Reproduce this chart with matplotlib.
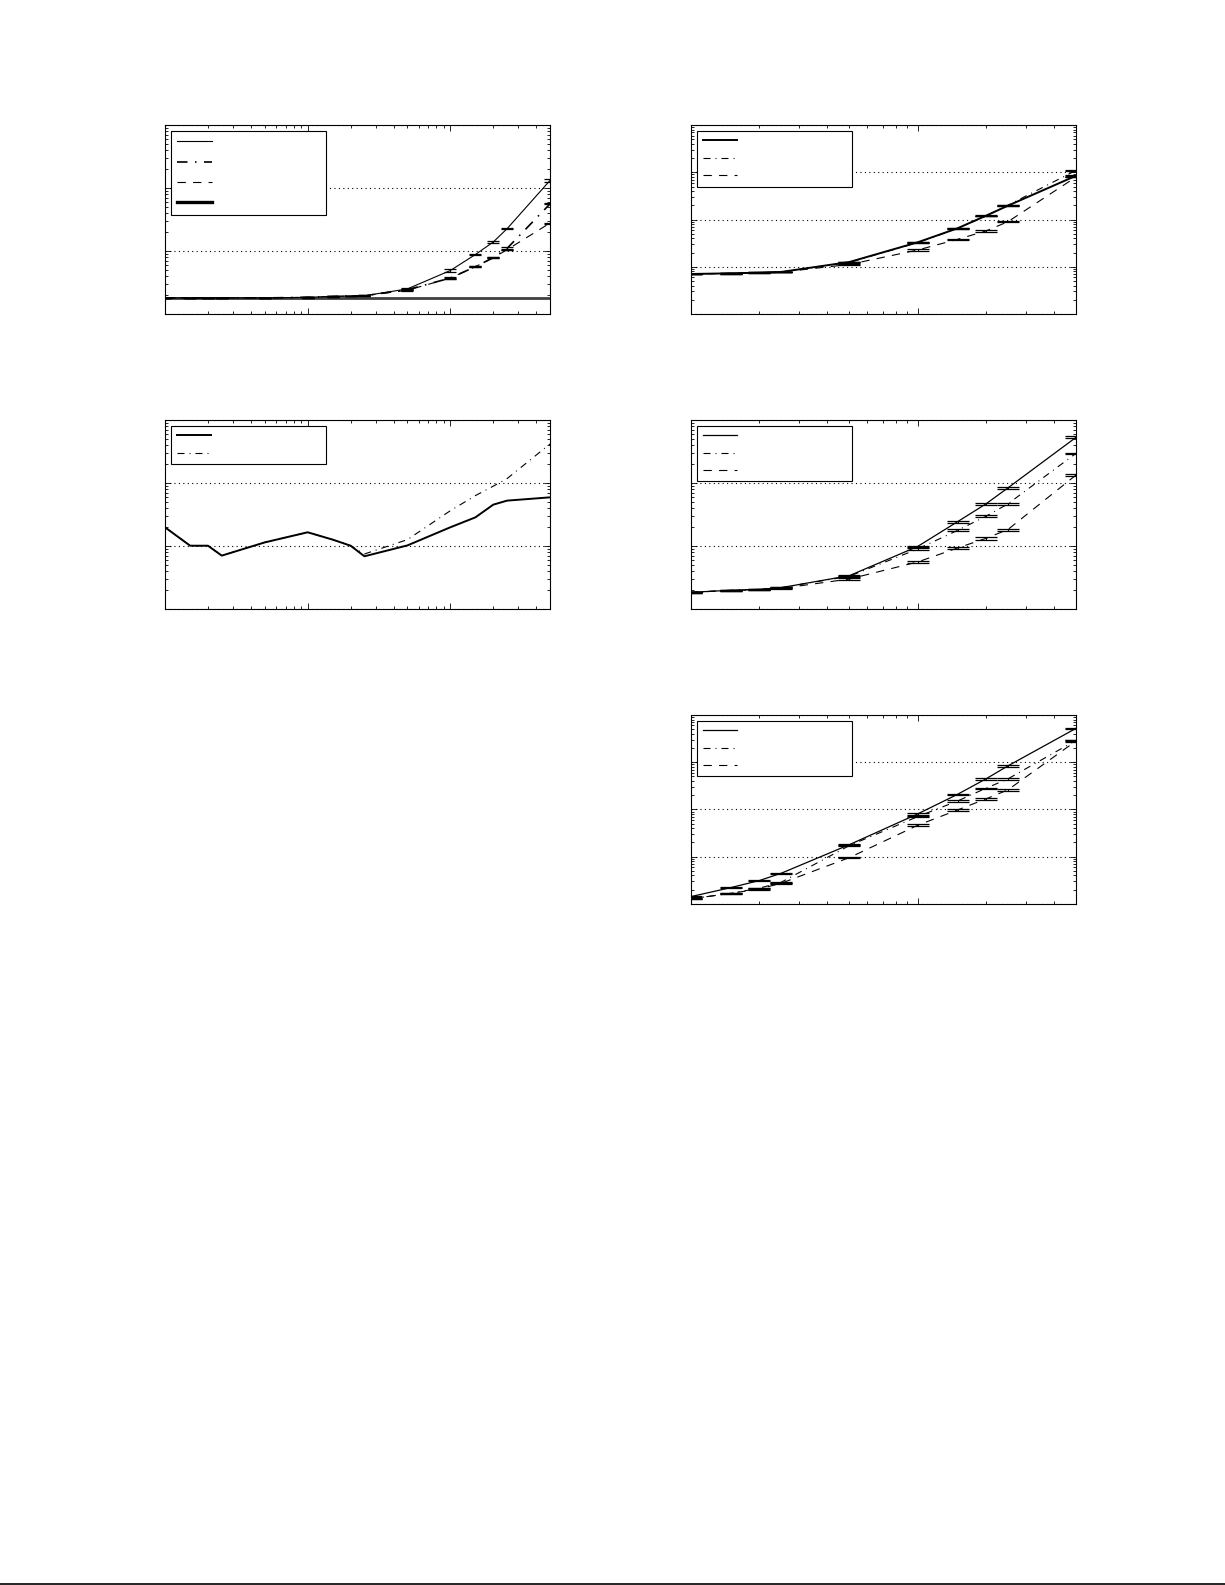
import matplotlib
matplotlib.use("Agg")
import matplotlib.pyplot as plt
from matplotlib.lines import Line2D

# x values (two groups of runs)
x_long = [1, 1.5, 2, 2.5, 5, 10, 15, 20, 25, 50, 100, 150, 200, 250, 500]
x_short = [1, 1.5, 2, 2.5, 5, 10, 15, 20, 25, 50]

# panel 1 (top left)
p1_a = [0.018, 0.018, 0.018, 0.018, 0.018, 0.0184, 0.019, 0.0193, 0.0195, 0.025, 0.049, 0.088, 0.139, 0.226, 1.32]
p1_b = [0.018, 0.018, 0.018, 0.018, 0.018, 0.0184, 0.019, 0.0193, 0.0195, 0.0243, 0.0372, 0.0564, 0.0783, 0.110, 0.56]
p1_c = [0.018, 0.018, 0.018, 0.018, 0.018, 0.0184, 0.019, 0.0193, 0.0195, 0.0238, 0.0372, 0.0564, 0.0783, 0.105, 0.278]
p1_d = [0.018, 0.018, 0.018, 0.018, 0.018, 0.018, 0.018, 0.018, 0.018, 0.018, 0.018, 0.018, 0.018, 0.018, 0.018]
p1_ea = [0.015, 0.015, 0.015, 0.015, 0.015, 0.015, 0.015, 0.015, 0.015, 0.02, 0.045, 0.02, 0.02, 0.02, 0.04]
p1_eb = [0.015, 0.015, 0.015, 0.015, 0.015, 0.015, 0.015, 0.015, 0.015, 0.015, 0.045, 0.02, 0.02, 0.045, 0.02]
p1_ec = [0.015, 0.015, 0.015, 0.015, 0.015, 0.015, 0.015, 0.015, 0.015, 0.015, 0.02, 0.02, 0.02, 0.02, 0.02]

# panel 2 (top right)
p2_a = [0.0703, 0.0726, 0.075, 0.0776, 0.126, 0.329, 0.652, 1.20, 1.96, 8.45]
p2_b = [0.0703, 0.0726, 0.075, 0.0776, 0.124, 0.325, 0.645, 1.19, 2.0, 11.0]
p2_c = [0.0703, 0.0726, 0.075, 0.0770, 0.112, 0.226, 0.381, 0.571, 0.897, 7.94]
p2_ea = [0.01, 0.01, 0.01, 0.01, 0.015, 0.015, 0.015, 0.015, 0.015, 0.015]
p2_eb = [0.01, 0.01, 0.01, 0.01, 0.015, 0.015, 0.015, 0.015, 0.015, 0.03]
p2_ec = [0.01, 0.01, 0.01, 0.01, 0.015, 0.04, 0.02, 0.035, 0.035, 0.02]

# panel 3 (middle left)
p3_a = [0.198, 0.101, 0.101, 0.0703, 0.114, 0.165, 0.126, 0.101, 0.0686, 0.102, 0.198, 0.285, 0.453, 0.525, 0.592]
p3_b = [0.198, 0.101, 0.101, 0.0703, 0.114, 0.165, 0.126, 0.101, 0.0746, 0.126, 0.363, 0.631, 0.891, 1.175, 4.17]

# panel 4 (middle right)
p4_a = [0.184, 0.198, 0.205, 0.218, 0.338, 0.982, 2.43, 4.65, 8.34, 53.1]
p4_b = [0.184, 0.198, 0.205, 0.218, 0.331, 0.895, 1.77, 2.96, 4.65, 29.6]
p4_c = [0.184, 0.196, 0.202, 0.212, 0.299, 0.557, 0.929, 1.32, 1.82, 13.4]
p4_ea = [0.01, 0.02, 0.02, 0.02, 0.02, 0.02, 0.04, 0.04, 0.02, 0.04]
p4_eb = [0.01, 0.02, 0.02, 0.02, 0.02, 0.02, 0.04, 0.04, 0.04, 0.03]
p4_ec = [0.01, 0.02, 0.02, 0.02, 0.02, 0.04, 0.04, 0.04, 0.04, 0.04]

# panel 5 (bottom right)
p5_a = [0.143, 0.222, 0.312, 0.446, 1.80, 8.04, 20.9, 44.3, 83.4, 522]
p5_b = [0.128, 0.168, 0.215, 0.288, 1.72, 7.05, 15.1, 28.1, 44.3, 291]
p5_c = [0.128, 0.168, 0.207, 0.274, 0.957, 4.62, 9.75, 16.7, 25.9, 282]
p5_ea = [0.02, 0.03, 0.03, 0.03, 0.03, 0.04, 0.04, 0.03, 0.04, 0.04]
p5_eb = [0.03, 0.03, 0.03, 0.03, 0.03, 0.04, 0.04, 0.02, 0.04, 0.03]
p5_ec = [0.03, 0.03, 0.03, 0.03, 0.03, 0.04, 0.04, 0.04, 0.04, 0.04]

DASH = (0, (7.5, 6.5))
DASHDOT = (0, (6.3, 4.5, 0.9, 4.5))


def setup_axes(fig, rect, xlim, ylim):
    ax = fig.add_axes(rect)
    ax.set_xscale('log')
    ax.set_yscale('log')
    ax.set_xlim(xlim)
    ax.set_ylim(ylim)
    ax.tick_params(which='both', direction='in', top=True, right=True,
                   labelbottom=False, labelleft=False, width=0.6)
    ax.tick_params(which='major', length=4)
    ax.tick_params(which='minor', length=2.2)
    for s in ax.spines.values():
        s.set_linewidth(0.8)
    ax.yaxis.grid(True, which='major', linestyle=(0, (1, 3)), linewidth=0.8, color='k')
    ax.xaxis.grid(False)
    ax.set_axisbelow(True)
    return ax


def err_plot(ax, x, y, rel, ls, lw, cap):
    e = [v * r for v, r in zip(y, rel)]
    c = ax.errorbar(x, y, yerr=e, color='k', linestyle=ls, linewidth=lw,
                    elinewidth=0.8, capsize=cap, capthick=0.9)
    return c.lines[0]


def add_legend(ax, handles, spacing, pad=0.5):
    leg = ax.legend(handles, [''] * len(handles), loc='upper left',
                    bbox_to_anchor=(0.0156, 0.0, 0.4026, 0.97), mode='expand',
                    borderaxespad=0, fontsize=8, labelspacing=spacing,
                    borderpad=pad, handlelength=3.1, handletextpad=0.5,
                    fancybox=False, framealpha=1, edgecolor='k')
    leg.get_frame().set_linewidth(0.8)
    return leg


fig = plt.figure(figsize=(12.25, 15.85), dpi=100)

W, H = 0.3143, 0.1192
L1, L2 = 0.1347, 0.5641

# top left
ax = setup_axes(fig, [L1, 0.8019, W, H], (1, 500), (1e-2, 1e1))
h4 = ax.plot(x_long, p1_d, color='0.25', linewidth=2.0)[0]
h1 = err_plot(ax, x_long, p1_a, p1_ea, '-', 0.8, 4.3)
h2 = err_plot(ax, x_long, p1_b, p1_eb, DASHDOT, 1.2, 4.3)
h3 = err_plot(ax, x_long, p1_c, p1_ec, DASH, 0.8, 4.3)
leg_h4 = Line2D([], [], color='k', linewidth=2.4)
add_legend(ax, [h1, h2, h3, leg_h4], 0.93, pad=0.58)

# top right
ax = setup_axes(fig, [L2, 0.8019, W, H], (1, 50), (1e-2, 1e2))
h1 = err_plot(ax, x_short, p2_a, p2_ea, '-', 1.4, 7.6)
h2 = err_plot(ax, x_short, p2_b, p2_eb, DASHDOT, 0.8, 7.6)
h3 = err_plot(ax, x_short, p2_c, p2_ec, DASH, 0.8, 7.6)
add_legend(ax, [h1, h2, h3], 0.66)

# middle left
ax = setup_axes(fig, [L1, 0.6158, W, H], (1, 500), (1e-2, 1e1))
h1 = ax.plot(x_long, p3_a, color='k', linewidth=1.4)[0]
h2 = ax.plot(x_long, p3_b, color='k', linestyle=DASHDOT, linewidth=0.8)[0]
add_legend(ax, [h1, h2], 0.66)

# middle right
ax = setup_axes(fig, [L2, 0.6158, W, H], (1, 50), (1e-1, 1e2))
h1 = err_plot(ax, x_short, p4_a, p4_ea, '-', 0.9, 7.6)
h2 = err_plot(ax, x_short, p4_b, p4_eb, DASHDOT, 0.8, 7.6)
h3 = err_plot(ax, x_short, p4_c, p4_ec, DASH, 0.8, 7.6)
add_legend(ax, [h1, h2, h3], 0.66)

# bottom right
ax = setup_axes(fig, [L2, 0.4297, W, H], (1, 50), (1e-1, 1e3))
h1 = err_plot(ax, x_short, p5_a, p5_ea, '-', 0.9, 7.6)
h2 = err_plot(ax, x_short, p5_b, p5_eb, DASHDOT, 0.8, 7.6)
h3 = err_plot(ax, x_short, p5_c, p5_ec, DASH, 0.8, 7.6)
add_legend(ax, [h1, h2, h3], 0.66)

# rule at the bottom of the page
fig.add_artist(Line2D([0, 1], [0.0009, 0.0009], transform=fig.transFigure,
                      color='k', linewidth=1.2))

fig.savefig('out.png', dpi=100)
